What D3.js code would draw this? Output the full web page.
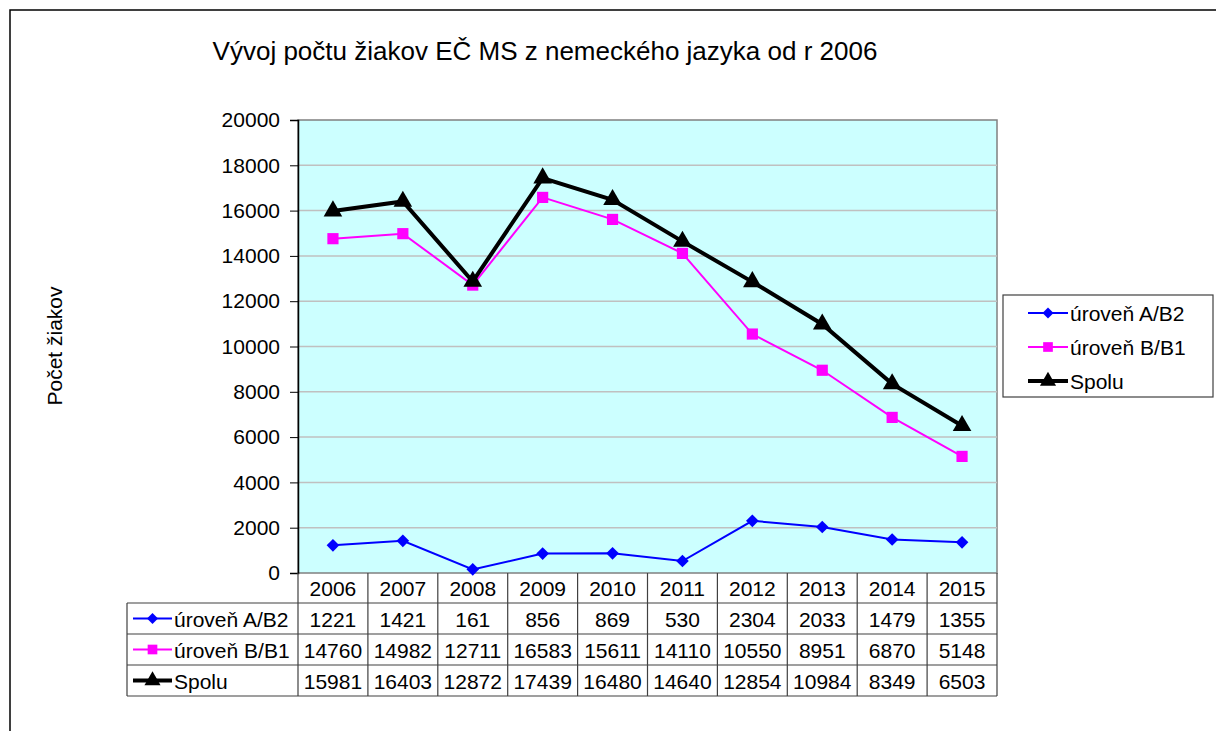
<!DOCTYPE html>
<html>
<head>
<meta charset="utf-8">
<script src="https://cdn.jsdelivr.net/npm/d3@7"></script>
<style>
  body { margin: 0; background: #fff; }
  svg { display: block; font-family: "Liberation Sans", Arial, sans-serif; }
</style>
</head>
<body>
<div id="chart"></div>
<script>
const years = ["2006", "2007", "2008", "2009", "2010", "2011", "2012", "2013", "2014", "2015"];
const levelA = [1221, 1421, 161, 856, 869, 530, 2304, 2033, 1479, 1355];
const levelB = [14760, 14982, 12711, 16583, 15611, 14110, 10550, 8951, 6870, 5148];
const total = [15981, 16403, 12872, 17439, 16480, 14640, 12854, 10984, 8349, 6503];
const yTicks = [0, 2000, 4000, 6000, 8000, 10000, 12000, 14000, 16000, 18000, 20000];
const seriesNames = ["úroveň A/B2", "úroveň B/B1", "Spolu"];

const series = [
    { name: seriesNames[0], values: levelA, color: "#0000ff", width: 2, symbol: "diamond" },
    { name: seriesNames[1], values: levelB, color: "#ff00ff", width: 2, symbol: "square" },
    { name: seriesNames[2], values: total, color: "#000000", width: 4, symbol: "triangle" }
];

const W = 1216, H = 731;
const plot = { left: 298, right: 997, top: 120, bottom: 573 };
const rowH = [30, 31, 31, 31];
const tableLeft = 127;
const fs = 21;

const svg = d3.select("#chart").append("svg")
    .attr("width", W).attr("height", H);

// outer chart frame (runs off the page to the right and bottom)
svg.append("path")
    .attr("d", `M10,${H + 5}V10H${W + 5}`)
    .attr("fill", "none").attr("stroke", "#000").attr("stroke-width", 1.5);

svg.append("text")
    .attr("x", 545).attr("y", 60)
    .attr("text-anchor", "middle")
    .attr("font-size", 26)
    .text("Vývoj počtu žiakov EČ MS z nemeckého jazyka od r 2006");

const x = d3.scaleBand().domain(years).range([plot.left, plot.right]);
const y = d3.scaleLinear().domain([0, 20000]).range([plot.bottom, plot.top]);

svg.append("rect")
    .attr("x", plot.left).attr("y", plot.top)
    .attr("width", plot.right - plot.left).attr("height", plot.bottom - plot.top)
    .attr("fill", "#ccffff").attr("stroke", "#808080").attr("stroke-width", 1.5);

svg.append("g").selectAll("line")
    .data(yTicks.filter(t => t > 0 && t < 20000))
    .join("line")
    .attr("x1", plot.left).attr("x2", plot.right)
    .attr("y1", d => y(d)).attr("y2", d => y(d))
    .attr("stroke", "#c0c0c0").attr("stroke-width", 1.5);

const yAxis = svg.append("g")
    .attr("transform", `translate(${plot.left},0)`)
    .call(d3.axisLeft(y).tickValues(yTicks).tickSize(8).tickPadding(10).tickFormat(d3.format("d")));
yAxis.select(".domain").attr("stroke", "#000").attr("stroke-width", 1.5);
yAxis.selectAll(".tick line").attr("stroke", "#000");
yAxis.selectAll("text").attr("font-size", fs).attr("fill", "#000")
    .attr("font-family", "Liberation Sans, Arial, sans-serif");

svg.append("text")
    .attr("transform", "rotate(-90)")
    .attr("x", -346).attr("y", 62)
    .attr("text-anchor", "middle")
    .attr("font-size", 21)
    .text("Počet žiakov");

function symbolPath(kind, scale) {
    if (kind === "diamond") return d3.symbol(d3.symbolSquare, 80 * scale)();
    if (kind === "square") return d3.symbol(d3.symbolSquare, 125 * scale)();
    return d3.symbol(d3.symbolTriangle, 150 * scale)();
}
function symbolRotate(kind) { return kind === "diamond" ? " rotate(45)" : ""; }

const line = d3.line()
    .x((d, i) => x(years[i]) + x.bandwidth() / 2)
    .y(d => y(d));

series.forEach(s => {
    svg.append("path")
        .datum(s.values)
        .attr("fill", "none")
        .attr("stroke", s.color)
        .attr("stroke-width", s.width)
        .attr("d", line);
    svg.append("g").selectAll("path")
        .data(s.values)
        .join("path")
        .attr("transform", (d, i) => `translate(${x(years[i]) + x.bandwidth() / 2},${y(d)})` + symbolRotate(s.symbol))
        .attr("d", symbolPath(s.symbol, 1))
        .attr("fill", s.color);
});

// data table
const rowTops = [plot.bottom];
rowH.forEach((h, i) => rowTops.push(rowTops[i] + h));
const table = svg.append("g").attr("font-size", fs);
const gridStroke = "#404040";

rowTops.slice(1).forEach(ty => {
    table.append("line")
        .attr("x1", tableLeft).attr("x2", plot.right)
        .attr("y1", ty).attr("y2", ty)
        .attr("stroke", gridStroke).attr("stroke-width", 1.2);
});
const colEdges = years.map(yr => x(yr)).concat([plot.right]);
colEdges.forEach(cx => {
    table.append("line")
        .attr("x1", cx).attr("x2", cx)
        .attr("y1", plot.bottom).attr("y2", rowTops[4])
        .attr("stroke", gridStroke).attr("stroke-width", 1.2);
});
table.append("line")
    .attr("x1", tableLeft).attr("x2", tableLeft)
    .attr("y1", rowTops[1]).attr("y2", rowTops[4])
    .attr("stroke", gridStroke).attr("stroke-width", 1.2);

table.selectAll(".yr")
    .data(years)
    .join("text")
    .attr("x", d => x(d) + x.bandwidth() / 2)
    .attr("y", rowTops[0] + rowH[0] / 2 + 8)
    .attr("text-anchor", "middle")
    .text(d => d);

series.forEach((s, r) => {
    const cy = rowTops[r + 1] + rowH[r + 1] / 2;
    table.append("line")
        .attr("x1", tableLeft + 6).attr("x2", tableLeft + 45)
        .attr("y1", cy).attr("y2", cy)
        .attr("stroke", s.color).attr("stroke-width", s.width);
    table.append("path")
        .attr("transform", `translate(${tableLeft + 25.5},${cy})` + symbolRotate(s.symbol))
        .attr("d", symbolPath(s.symbol, 0.75))
        .attr("fill", s.color);
    table.append("text")
        .attr("x", tableLeft + 47).attr("y", cy + 8)
        .text(s.name);
    table.selectAll(null)
        .data(s.values)
        .join("text")
        .attr("x", (d, i) => x(years[i]) + x.bandwidth() / 2)
        .attr("y", cy + 8)
        .attr("text-anchor", "middle")
        .text(d => d);
});

// legend
const legend = svg.append("g").attr("font-size", fs);
legend.append("rect")
    .attr("x", 1003).attr("y", 295).attr("width", 210).attr("height", 102)
    .attr("fill", "#fff").attr("stroke", "#404040").attr("stroke-width", 1.2);
series.forEach((s, i) => {
    const ly = 313 + i * 34;
    legend.append("line")
        .attr("x1", 1028).attr("x2", 1068)
        .attr("y1", ly).attr("y2", ly)
        .attr("stroke", s.color).attr("stroke-width", s.width);
    legend.append("path")
        .attr("transform", `translate(1048,${ly})` + symbolRotate(s.symbol))
        .attr("d", symbolPath(s.symbol, 0.75))
        .attr("fill", s.color);
    legend.append("text")
        .attr("x", 1070).attr("y", ly + 8)
        .text(s.name);
});
</script>
</body>
</html>
